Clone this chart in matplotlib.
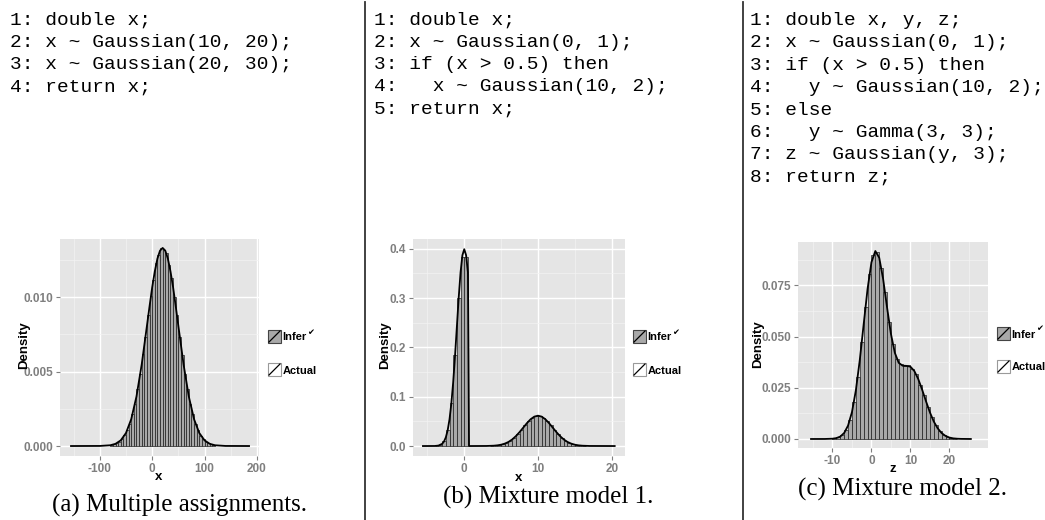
import matplotlib
matplotlib.use("Agg")
import matplotlib.pyplot as plt
from matplotlib.patches import Rectangle
from matplotlib.lines import Line2D

W, H = 1045, 520

# ---------------- text content ----------------
code_a = ["1: double x;",
          "2: x ~ Gaussian(10, 20);",
          "3: x ~ Gaussian(20, 30);",
          "4: return x;"]
code_b = ["1: double x;",
          "2: x ~ Gaussian(0, 1);",
          "3: if (x > 0.5) then",
          "4:   x ~ Gaussian(10, 2);",
          "5: return x;"]
code_c = ["1: double x, y, z;",
          "2: x ~ Gaussian(0, 1);",
          "3: if (x > 0.5) then",
          "4:   y ~ Gaussian(10, 2);",
          "5: else",
          "6:   y ~ Gamma(3, 3);",
          "7: z ~ Gaussian(y, 3);",
          "8: return z;"]
captions = ["(a) Multiple assignments.", "(b) Mixture model 1.", "(c) Mixture model 2."]
legend_labels = ["Infer", "Actual"]
x_labels = ["x", "x", "z"]
y_label = "Density"

# ---------------- panel (a) data ----------------
a_bin_start = -80.0
a_bin_width = 5.0
a_hist = [0.00007, 0.00012, 0.00020, 0.00029, 0.00048, 0.00071, 0.00108, 0.00150,
          0.00214, 0.00285, 0.00384, 0.00483, 0.00615, 0.00735, 0.00880, 0.01010,
          0.01115, 0.01228, 0.01282, 0.01332, 0.01318, 0.01295, 0.01214, 0.01128,
          0.00998, 0.00880, 0.00734, 0.00614, 0.00482, 0.00385, 0.00284, 0.00215,
          0.00150, 0.00108, 0.00070, 0.00048, 0.00030, 0.00019, 0.00012, 0.00007]
a_curve_x = [-155, -100, -80, -70, -60, -50, -40, -30, -20, -10, -5, 0, 5, 10, 15,
             20, 25, 30, 35, 40, 45, 50, 60, 70, 80, 90, 100, 110, 120, 140, 185]
a_curve_y = [0.0, 0.000005, 0.000051, 0.000148, 0.00038, 0.000874, 0.0018, 0.00332,
             0.00547, 0.00807, 0.00938, 0.01065, 0.01172, 0.01258, 0.01312, 0.0133,
             0.01312, 0.01258, 0.01172, 0.01065, 0.00938, 0.00807, 0.00547, 0.00332,
             0.0018, 0.000874, 0.00038, 0.000148, 0.000051, 0.000005, 0.0]
a_xticks = [-100, 0, 100, 200]
a_xticklabels = ["-100", "0", "100", "200"]
a_yticks = [0.0, 0.005, 0.010]
a_yticklabels = ["0.000", "0.005", "0.010"]

# ---------------- panel (b) data ----------------
b_bin_width = 0.5
b_left_start = -4.0
b_left_hist = [0.0004, 0.0021, 0.0095, 0.033, 0.088, 0.184, 0.300, 0.383, 0.384]
b_right_start = 3.5
b_right_hist = [0.0005, 0.0010, 0.0020, 0.0037, 0.0064, 0.0106, 0.0164, 0.0239,
                0.0327, 0.0419, 0.0506, 0.0573, 0.0610, 0.0610, 0.0573, 0.0506,
                0.0419, 0.0327, 0.0239, 0.0164, 0.0106, 0.0064, 0.0037, 0.0020,
                0.0010, 0.0005]
b_curve_x = [-5.6, -4.0, -3.5, -3.0, -2.75, -2.5, -2.25, -2.0, -1.75, -1.5, -1.25,
             -1.0, -0.75, -0.5, -0.25, 0.0, 0.25, 0.5, 0.65, 3.0, 4.0, 4.5, 5.0,
             5.5, 6.0, 6.5, 7.0, 7.5, 8.0, 8.5, 9.0, 9.5, 10.0, 10.5, 11.0, 11.5,
             12.0, 12.5, 13.0, 13.5, 14.0, 14.5, 15.0, 15.5, 16.0, 17.0, 20.4]
b_curve_y = [0.0, 0.0001, 0.0009, 0.0044, 0.0091, 0.0175, 0.0317, 0.054, 0.0863,
             0.1295, 0.1826, 0.242, 0.3011, 0.3521, 0.3867, 0.3989, 0.3867, 0.3521,
             0.0, 0.00013, 0.00068, 0.0014, 0.0027, 0.0049, 0.0083, 0.0133, 0.0200,
             0.0282, 0.0373, 0.0464, 0.0543, 0.0596, 0.0615, 0.0596, 0.0543, 0.0464,
             0.0373, 0.0282, 0.0200, 0.0133, 0.0083, 0.0049, 0.0027, 0.0014, 0.00068,
             0.00013, 0.0]
b_xticks = [0, 10, 20]
b_xticklabels = ["0", "10", "20"]
b_yticks = [0.0, 0.1, 0.2, 0.3, 0.4]
b_yticklabels = ["0.0", "0.1", "0.2", "0.3", "0.4"]

# ---------------- panel (c) data ----------------
c_bin_start = -10.0
c_bin_width = 1.0
c_hist = [0.0003, 0.0008, 0.0019, 0.0045, 0.0093, 0.0180, 0.0303, 0.0472, 0.0645,
          0.0808, 0.0898, 0.0915, 0.0836, 0.0716, 0.0573, 0.0465, 0.0390, 0.0365,
          0.0355, 0.0360, 0.0343, 0.0318, 0.0266, 0.0215, 0.0155, 0.0108, 0.0066,
          0.0040, 0.0021, 0.0011, 0.0005, 0.0002]
c_curve_x = [-15.5, -12, -10, -9, -8, -7, -6, -5, -4, -3, -2, -1, 0, 1, 2, 3, 4, 5,
             6, 7, 8, 9, 10, 11, 12, 13, 14, 15, 16, 17, 18, 19, 20, 21, 22, 23, 25.5]
c_curve_y = [0.0, 0.00001, 0.00014, 0.00043, 0.00118, 0.00293, 0.00654, 0.0131,
             0.0237, 0.0384, 0.0559, 0.0732, 0.0863, 0.0918, 0.0885, 0.0781, 0.0643,
             0.0513, 0.0421, 0.0372, 0.0358, 0.0357, 0.0353, 0.0332, 0.0293, 0.0241,
             0.0184, 0.0130, 0.0085, 0.0052, 0.0029, 0.0015, 0.0007, 0.0003, 0.00013,
             0.00005, 0.0]
c_xticks = [-10, 0, 10, 20]
c_xticklabels = ["-10", "0", "10", "20"]
c_yticks = [0.0, 0.025, 0.050, 0.075]
c_yticklabels = ["0.000", "0.025", "0.050", "0.075"]

# ---------------- styles ----------------
BG = "#e5e5e5"
BAR_FILL = "#a9a9a9"
BAR_EDGE = "#1e1e1e"
TICK_COL = "#7f7f7f"
SANS = "Liberation Sans"
MONO = "Liberation Mono"
SERIF = "Liberation Serif"

fig = plt.figure(figsize=(W / 100, H / 100), dpi=100)


def fx(x):
    return x / W


def fy(y):
    return 1 - y / H


def add_panel(left, top, right, bottom, xlim, ylim, xticks, xtl, xminor,
              yticks, ytl, yminor):
    ax = fig.add_axes([fx(left), fy(bottom), (right - left) / W, (bottom - top) / H])
    ax.set_facecolor(BG)
    for s in ax.spines.values():
        s.set_visible(False)
    ax.set_xlim(*xlim)
    ax.set_ylim(*ylim)
    ax.set_xticks(xticks)
    ax.set_xticklabels(xtl)
    ax.set_xticks(xminor, minor=True)
    ax.set_yticks(yticks)
    ax.set_yticklabels(ytl)
    ax.set_yticks(yminor, minor=True)
    ax.grid(which="major", color="white", lw=1.0)
    ax.grid(which="minor", color="#f3f3f3", lw=0.5)
    ax.set_axisbelow(True)
    ax.tick_params(which="major", length=3, width=0.8, color=TICK_COL,
                   labelcolor=TICK_COL, labelsize=8.5, pad=2)
    ax.tick_params(which="minor", length=0)
    for lab in ax.get_xticklabels() + ax.get_yticklabels():
        lab.set_fontweight("bold")
        lab.set_family(SANS)
    return ax


def draw_hist(ax, start, width, heights):
    lefts = [start + width * i for i in range(len(heights))]
    ax.bar(lefts, heights, width=width, align="edge", color=BAR_FILL,
           edgecolor=BAR_EDGE, linewidth=0.5, zorder=2)


# panel (a)
ax_a = add_panel(60, 239, 259, 456, (-176, 204), (-0.00067, 0.0139),
                 a_xticks, a_xticklabels, [-150, -50, 50, 150],
                 a_yticks, a_yticklabels, [0.0025, 0.0075, 0.0125])
draw_hist(ax_a, a_bin_start, a_bin_width, a_hist)
ax_a.plot(a_curve_x, a_curve_y, color="black", lw=1.3, zorder=3)

# panel (b)
ax_b = add_panel(413, 239, 625, 456, (-6.95, 21.8), (-0.0202, 0.4196),
                 b_xticks, b_xticklabels, [-5, 5, 15],
                 b_yticks, b_yticklabels, [0.05, 0.15, 0.25, 0.35])
draw_hist(ax_b, b_left_start, b_bin_width, b_left_hist)
draw_hist(ax_b, b_right_start, b_bin_width, b_right_hist)
ax_b.plot(b_curve_x, b_curve_y, color="black", lw=1.3, zorder=3)

# panel (c)
ax_c = add_panel(798, 242, 988, 448, (-18.84, 29.9), (-0.0044, 0.0962),
                 c_xticks, c_xticklabels, [-15, -5, 5, 15, 25],
                 c_yticks, c_yticklabels, [0.0125, 0.0375, 0.0625, 0.0875])
draw_hist(ax_c, c_bin_start, c_bin_width, c_hist)
ax_c.plot(c_curve_x, c_curve_y, color="black", lw=1.3, zorder=3)

# ---------------- code listings ----------------
def code_block(lines, x, y0, dy, size=14):
    for i, ln in enumerate(lines):
        fig.text(fx(x), fy(y0 + dy * i), ln, family=MONO, fontsize=size,
                 ha="left", va="baseline", color="black")


code_block(code_a, 10, 25, 22.1)
code_block(code_b, 374, 25, 22.1)
code_block(code_c, 750, 25, 22.4)

# separators
for xs in (365, 743):
    fig.add_artist(Line2D([fx(xs), fx(xs)], [fy(2), fy(520)], transform=fig.transFigure,
                          color="#333333", lw=1.3))

# ---------------- axis titles ----------------
for (xl, yl), lab in zip([(159, 477), (519, 478), (893, 469)], x_labels):
    fig.text(fx(xl), fy(yl), lab, family=SANS, fontsize=9.5, fontweight="bold",
             ha="center", va="center")
for (xl, yl) in [(24, 345), (385, 345), (758, 344)]:
    fig.text(fx(xl), fy(yl), y_label, family=SANS, fontsize=9.5, fontweight="bold",
             ha="center", va="center", rotation=90)

# ---------------- captions ----------------
for (xc, yc), cap in zip([(180, 505), (548, 497), (903, 489)], captions):
    fig.text(fx(xc), fy(yc), cap, family=SERIF, fontsize=18, ha="center", va="center")

# ---------------- legends ----------------
renderer = fig.canvas.get_renderer()


def legend(x0, top_infer, top_actual, size=13):
    for top, fill, edge, lab in [(top_infer, BAR_FILL, "#444444", legend_labels[0]),
                                 (top_actual, "white", "#9a9a9a", legend_labels[1])]:
        fig.add_artist(Rectangle((fx(x0), fy(top + size)), size / W, size / H,
                                 transform=fig.transFigure, facecolor=fill,
                                 edgecolor=edge, lw=0.8))
        fig.add_artist(Line2D([fx(x0 + 1), fx(x0 + size - 1)],
                              [fy(top + size - 1), fy(top + 1)],
                              transform=fig.transFigure, color="black", lw=0.9))
        t = fig.text(fx(x0 + size + 1.5), fy(top + size / 2 + 1), lab, family=SANS,
                     fontsize=8, fontweight="bold", ha="left", va="center")
        if lab == legend_labels[0]:
            bb = t.get_window_extent(renderer)
            fig.text(fx(bb.x1 + 0.5), fy(top + 2), "\u2714", family="DejaVu Sans",
                     fontsize=6, ha="left", va="center")


legend(268, 330, 363)
legend(633, 330, 363)
legend(997, 327, 360)

fig.savefig("out.png", dpi=100)
